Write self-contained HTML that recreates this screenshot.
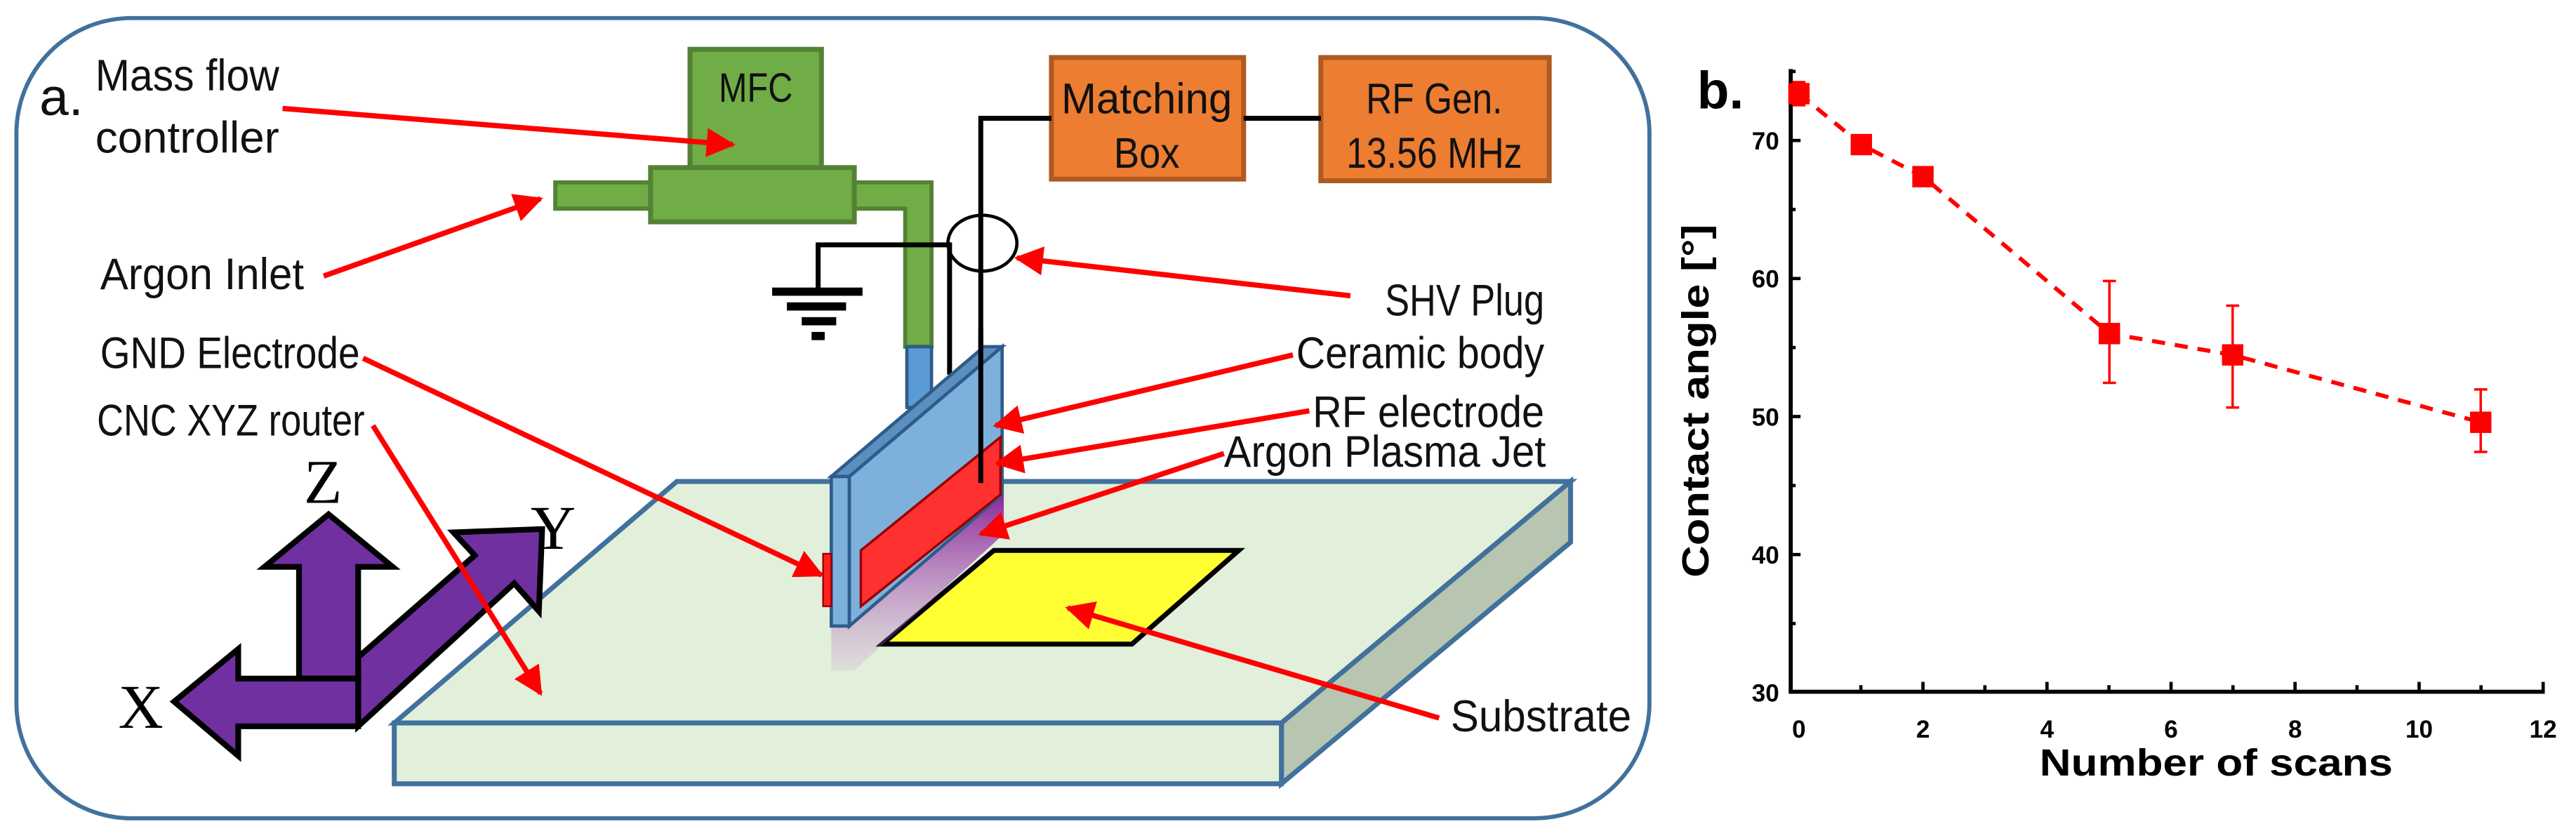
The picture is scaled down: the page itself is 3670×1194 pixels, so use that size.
<!DOCTYPE html>
<html><head><meta charset="utf-8"><style>html,body{margin:0;padding:0;background:#fff}svg{display:block}</style></head>
<body>
<svg width="3670" height="1194" viewBox="0 0 1568 510" preserveAspectRatio="none" xmlns="http://www.w3.org/2000/svg">
<defs>
<marker id="ah" viewBox="0 0 10 10" refX="9" refY="5" markerWidth="7.5" markerHeight="5.5" orient="auto" markerUnits="strokeWidth"><path d="M0,0 L10,5 L0,10 z" fill="#ff0000"/></marker>
<linearGradient id="pl" x1="0" y1="0" x2="0" y2="1"><stop offset="0" stop-color="#8a2a9a"/><stop offset="1" stop-color="#c080d0" stop-opacity="0.15"/></linearGradient>
</defs>
<g font-family="'Liberation Sans Narrow','Liberation Sans',sans-serif" fill="#111">
<rect x="10" y="11" width="994" height="487" rx="70" ry="70" fill="#fff" stroke="#41719c" stroke-width="2.5"/>
<text x="24" y="70" font-family="'Liberation Sans',sans-serif" font-size="32">a.</text>
<polygon points="240,440 412,293 956,293 780,440" fill="#e2efda" stroke="#41719c" stroke-width="3"/>
<polygon points="780,440 956,293 956,330 780,477" fill="#b8c5b0" stroke="#41719c" stroke-width="3"/>
<rect x="240" y="440" width="540" height="37" fill="#e2efda" stroke="#41719c" stroke-width="3"/>
<polygon points="605,335 754,335 689,392 537,392" fill="#ffff33" stroke="#000" stroke-width="3"/>
<polygon points="506,381 517,381 611,301 611,325 520,408 506,408" fill="url(#pl)"/>
<rect x="338" y="111" width="60" height="16" fill="#70ad47" stroke="#548235" stroke-width="2.5"/>
<path d="M520,111 H567 V211 H551 V127 H520 Z" fill="#70ad47" stroke="#548235" stroke-width="2.5"/>
<rect x="552" y="211" width="15" height="37" fill="#5b9bd5" stroke="#2e5c8a" stroke-width="2"/>
<rect x="420" y="30" width="80" height="72" fill="#70ad47" stroke="#548235" stroke-width="3"/>
<rect x="396" y="102" width="124" height="33" fill="#70ad47" stroke="#548235" stroke-width="3"/>
<text x="460" y="62" text-anchor="middle" font-size="25" textLength="45" lengthAdjust="spacingAndGlyphs">MFC</text>
<rect x="640" y="35" width="117" height="74" fill="#ed7d31" stroke="#ae5a21" stroke-width="3"/>
<text x="698" y="69" text-anchor="middle" font-size="26" textLength="104" lengthAdjust="spacingAndGlyphs">Matching</text>
<text x="698" y="102" text-anchor="middle" font-size="26" textLength="40" lengthAdjust="spacingAndGlyphs">Box</text>
<rect x="804" y="35" width="139" height="75" fill="#ed7d31" stroke="#ae5a21" stroke-width="3"/>
<text x="873" y="69" text-anchor="middle" font-size="26" textLength="83" lengthAdjust="spacingAndGlyphs">RF Gen.</text>
<text x="873" y="102" text-anchor="middle" font-size="26" textLength="107" lengthAdjust="spacingAndGlyphs">13.56 MHz</text>
<path d="M757,72 H804 M640,72 H597 V294" stroke="#000" stroke-width="3" fill="none"/>
<path d="M498,177 V149 H578 V228" stroke="#000" stroke-width="3" fill="none"/>
<rect x="470" y="175" width="55" height="5" fill="#000"/>
<rect x="479" y="184" width="36" height="5" fill="#000"/>
<rect x="488" y="193" width="21" height="5" fill="#000"/>
<rect x="494" y="202" width="8" height="5" fill="#000"/>
<ellipse cx="598" cy="148" rx="21" ry="17" fill="none" stroke="#000" stroke-width="2"/>
<polygon points="506,290 599,211 610,211 517,290" fill="#5b8fc0" stroke="#2e5c8a" stroke-width="2"/>
<rect x="506" y="290" width="11" height="91" fill="#7eb0dc" stroke="#2e5c8a" stroke-width="2"/>
<polygon points="517,290 610,211 610,301 517,381" fill="#7eb0dc" stroke="#2e5c8a" stroke-width="2"/>
<rect x="501" y="337" width="5" height="32" fill="#ff2020" stroke="#900" stroke-width="1"/>
<polygon points="524,335 609,266 609,301 524,369" fill="#ff3030" stroke="#900" stroke-width="1.5"/>
<line x1="597" y1="200" x2="597" y2="294" stroke="#000" stroke-width="3"/>
<g fill="#7030a0" stroke="#000" stroke-width="3.5" stroke-linejoin="miter">
<path d="M218,400 L289,338 L276,324 L330,322 L328,372 L313,355 L218,442 Z"/>
<path d="M182,413 V345 H161 L200,313 L239,345 H218 V413 Z"/>
<path d="M218,413 V442 H145 V460 L106,427 L145,395 V413 Z"/>
</g>
<g font-family="'Liberation Serif',serif" font-size="38" fill="#000">
<text x="185" y="306">Z</text><text x="323" y="334">Y</text><text x="72" y="443">X</text>
</g>
<g font-size="27">
<text x="58" y="55" textLength="112" lengthAdjust="spacingAndGlyphs">Mass flow</text>
<text x="58" y="93" textLength="112" lengthAdjust="spacingAndGlyphs">controller</text>
<text x="61" y="176" textLength="124" lengthAdjust="spacingAndGlyphs">Argon Inlet</text>
<text x="61" y="224" textLength="158" lengthAdjust="spacingAndGlyphs">GND Electrode</text>
<text x="59" y="265" textLength="163" lengthAdjust="spacingAndGlyphs">CNC XYZ router</text>
<text x="843" y="192" textLength="97" lengthAdjust="spacingAndGlyphs">SHV Plug</text>
<text x="789" y="224" textLength="151" lengthAdjust="spacingAndGlyphs">Ceramic body</text>
<text x="799" y="260" textLength="141" lengthAdjust="spacingAndGlyphs">RF electrode</text>
<text x="745" y="284" textLength="196" lengthAdjust="spacingAndGlyphs">Argon Plasma Jet</text>
<text x="883" y="445" textLength="110" lengthAdjust="spacingAndGlyphs">Substrate</text>
</g>
<g stroke="#ff0000" stroke-width="3.2" fill="none" marker-end="url(#ah)">
<line x1="172" y1="66" x2="446" y2="88"/>
<line x1="197" y1="168" x2="329" y2="121"/>
<line x1="221" y1="218" x2="500" y2="350"/>
<line x1="227" y1="259" x2="329" y2="422"/>
<line x1="822" y1="180" x2="619" y2="157"/>
<line x1="787" y1="216" x2="606" y2="259"/>
<line x1="797" y1="250" x2="607" y2="282"/>
<line x1="745" y1="276" x2="597" y2="325"/>
<line x1="876" y1="437" x2="650" y2="370"/>
</g>
</g>
<g font-family="'Liberation Sans',sans-serif" fill="#000">
<text x="1033" y="66" font-size="32" font-weight="bold">b.</text>
<path d="M1090,42 V421 H1549" stroke="#000" stroke-width="2.5" fill="none"/>
<g stroke="#000" stroke-width="2">
<line x1="1090" y1="85.5" x2="1096" y2="85.5"/><line x1="1090" y1="169.5" x2="1096" y2="169.5"/><line x1="1090" y1="253.5" x2="1096" y2="253.5"/><line x1="1090" y1="337.5" x2="1096" y2="337.5"/>
<line x1="1090" y1="43.5" x2="1093" y2="43.5"/><line x1="1090" y1="127.5" x2="1093" y2="127.5"/><line x1="1090" y1="211.5" x2="1093" y2="211.5"/><line x1="1090" y1="295.5" x2="1093" y2="295.5"/><line x1="1090" y1="379.5" x2="1093" y2="379.5"/>
<line x1="1170.5" y1="421" x2="1170.5" y2="415"/><line x1="1246" y1="421" x2="1246" y2="415"/><line x1="1321.5" y1="421" x2="1321.5" y2="415"/><line x1="1397" y1="421" x2="1397" y2="415"/><line x1="1472.5" y1="421" x2="1472.5" y2="415"/><line x1="1548" y1="421" x2="1548" y2="415"/>
<line x1="1132.7" y1="421" x2="1132.7" y2="417"/><line x1="1208.2" y1="421" x2="1208.2" y2="417"/><line x1="1283.7" y1="421" x2="1283.7" y2="417"/><line x1="1359.2" y1="421" x2="1359.2" y2="417"/><line x1="1434.7" y1="421" x2="1434.7" y2="417"/><line x1="1510.2" y1="421" x2="1510.2" y2="417"/>
</g>
<g font-size="15" font-weight="bold" text-anchor="end">
<text x="1083" y="91">70</text><text x="1083" y="175">60</text><text x="1083" y="259">50</text><text x="1083" y="343">40</text><text x="1083" y="427">30</text>
</g>
<g font-size="15" font-weight="bold" text-anchor="middle">
<text x="1095" y="449">0</text><text x="1170.5" y="449">2</text><text x="1246" y="449">4</text><text x="1321.5" y="449">6</text><text x="1397" y="449">8</text><text x="1472.5" y="449">10</text><text x="1548" y="449">12</text>
</g>
<text x="1349" y="472" font-size="23" font-weight="bold" text-anchor="middle" textLength="215" lengthAdjust="spacingAndGlyphs">Number of scans</text>
<text transform="translate(1040,244) rotate(-90)" font-size="23" font-weight="bold" text-anchor="middle" textLength="215" lengthAdjust="spacingAndGlyphs">Contact angle [°]</text>
<polyline points="1095,57 1133,88 1170.5,107.5 1284,203 1359,216 1510,257" stroke="#ff0000" stroke-width="2.5" stroke-dasharray="8,6" fill="none"/>
<g stroke="#ff0000" stroke-width="1.5">
<path d="M1095,50 V64 M1091,50 H1099 M1091,64 H1099"/>
<path d="M1284,171 V233 M1280,171 H1288 M1280,233 H1288"/>
<path d="M1359,186 V248 M1355,186 H1363 M1355,248 H1363"/>
<path d="M1510,237 V275 M1506,237 H1514 M1506,275 H1514"/>
</g>
<g fill="#ff0000">
<rect x="1088.5" y="50.5" width="13" height="13"/><rect x="1126.5" y="81.5" width="13" height="13"/><rect x="1164" y="101" width="13" height="13"/><rect x="1277.5" y="196.5" width="13" height="13"/><rect x="1352.5" y="209.5" width="13" height="13"/><rect x="1503.5" y="250.5" width="13" height="13"/>
</g>
</g>
</svg>
</body></html>
